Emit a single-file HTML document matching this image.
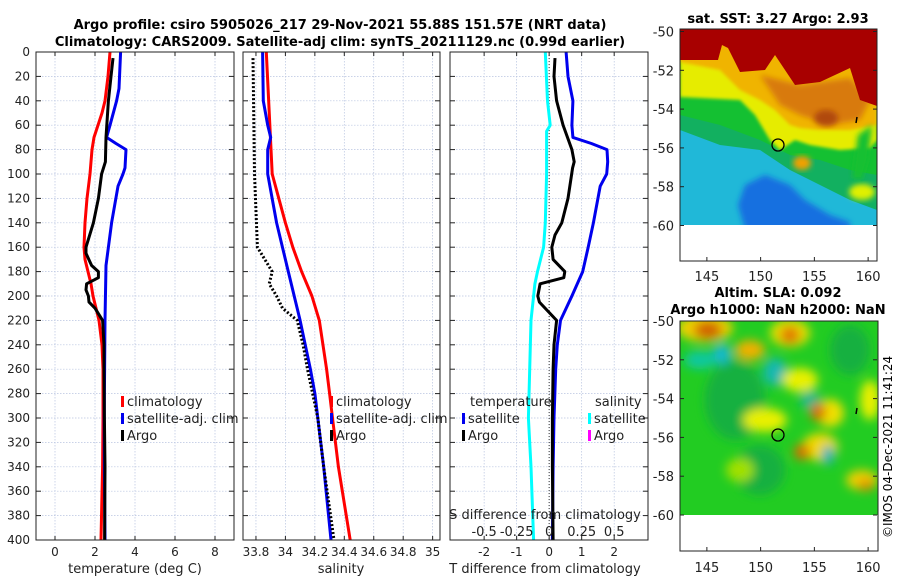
<!DOCTYPE html>
<html><head><meta charset="utf-8">
<style>
html,body{margin:0;padding:0;background:#fff;}
svg{display:block;font-family:"DejaVu Sans","Liberation Sans",sans-serif;}
</style></head>
<body>
<svg id="fig" width="900" height="580" viewBox="0 0 900 580" xmlns="http://www.w3.org/2000/svg">
<defs>
<filter id="blur2" x="-10%" y="-10%" width="120%" height="120%"><feGaussianBlur stdDeviation="1.5"/></filter>
<filter id="blur3" x="-20%" y="-20%" width="140%" height="140%"><feGaussianBlur stdDeviation="3"/></filter>
<filter id="blur5" x="-30%" y="-30%" width="160%" height="160%"><feGaussianBlur stdDeviation="5"/></filter>
<clipPath id="clipM1"><rect x="680" y="29" width="197" height="196"/></clipPath>
<clipPath id="clipM2"><rect x="680" y="321" width="198" height="194"/></clipPath>
</defs>
<text x="340" y="29" text-anchor="middle" font-size="13" font-weight="bold">Argo profile: csiro 5905026_217 29-Nov-2021 55.88S 151.57E (NRT data)</text>
<text x="340" y="46" text-anchor="middle" font-size="13" font-weight="bold">Climatology: CARS2009. Satellite-adj clim: synTS_20211129.nc (0.99d earlier)</text>

<!-- Map 1: SST -->
<g>
<text x="778" y="23" text-anchor="middle" font-size="13" font-weight="bold">sat. SST: 3.27 Argo: 2.93</text>
<g clip-path="url(#clipM1)">
<rect x="680" y="29" width="197" height="196" fill="#20b8d8"/>
<polygon fill="#1870e0" filter="url(#blur3)" points="745,185 765,175 790,185 805,200 830,215 850,222 850,230 745,230 738,205"/>
<polygon fill="#12b060" points="680,25 877,25 877,210 850,200 820,185 790,170 760,150 720,145 680,130"/>
<polygon fill="#14c032" points="680,25 877,25 877,175 850,170 820,160 790,155 760,140 720,125 680,115"/>
<polygon fill="#e6ec00" filter="url(#blur2)" points="680,25 877,25 877,140 870,148 840,150 810,145 795,140 780,150 770,140 755,115 740,100 680,97"/>
<polygon fill="#f0b400" filter="url(#blur2)" points="680,25 877,25 877,125 850,130 820,130 800,128 790,125 775,110 760,100 740,90 720,70 680,62"/>
<polygon fill="#d87a10" filter="url(#blur3)" points="760,75 800,85 850,78 870,100 860,120 830,125 800,115 780,105"/>
<ellipse cx="826" cy="118" rx="12" ry="8" fill="#b04a10" filter="url(#blur3)"/>
<polygon fill="#a80000" points="680,25 877,25 877,106 860,100 850,68 835,75 820,82 795,85 785,70 775,55 765,70 740,72 728,48 722,45 718,60 680,60"/>
<ellipse cx="802" cy="163" rx="9" ry="7" fill="#f0a000" filter="url(#blur3)"/>
<ellipse cx="862" cy="192" rx="13" ry="8" fill="#e0f000" filter="url(#blur3)"/>
<polygon fill="#14c032" points="858,135 872,125 868,160 862,180 852,178" filter="url(#blur3)"/>
</g>
<rect x="680" y="29" width="197" height="232" fill="none" stroke="#222" stroke-width="1"/>
<circle cx="778" cy="145" r="6" fill="none" stroke="#000" stroke-width="1.3"/>
<path d="M857 117 l-1 6" stroke="#000" stroke-width="1.5"/>
</g>

<!-- Map 2: SLA -->
<g>
<text x="778" y="297" text-anchor="middle" font-size="13" font-weight="bold">Altim. SLA: 0.092</text>
<text x="778" y="314" text-anchor="middle" font-size="13" font-weight="bold">Argo h1000: NaN h2000: NaN</text>
<g clip-path="url(#clipM2)">
<rect x="680" y="321" width="198" height="194" fill="#22cc22"/>
<g filter="url(#blur5)">
<ellipse cx="735" cy="400" rx="30" ry="40" fill="#18b040"/>
<ellipse cx="760" cy="470" rx="25" ry="25" fill="#18b040"/>
<ellipse cx="850" cy="350" rx="20" ry="25" fill="#18b040"/>
<ellipse cx="705" cy="328" rx="28" ry="14" fill="#f0d000"/>
<ellipse cx="708" cy="330" rx="14" ry="9" fill="#d06000"/>
<ellipse cx="790" cy="333" rx="20" ry="14" fill="#e8e000"/>
<ellipse cx="790" cy="335" rx="10" ry="9" fill="#e07800"/>
<ellipse cx="750" cy="350" rx="15" ry="10" fill="#f0b000"/>
<ellipse cx="700" cy="360" rx="16" ry="9" fill="#10c8a0"/>
<ellipse cx="722" cy="354" rx="9" ry="10" fill="#18b8d0"/>
<ellipse cx="775" cy="372" rx="12" ry="14" fill="#18b8b0"/>
<ellipse cx="800" cy="380" rx="18" ry="12" fill="#e8f000"/>
<ellipse cx="810" cy="400" rx="10" ry="9" fill="#10b890"/>
<ellipse cx="830" cy="413" rx="14" ry="14" fill="#f0e000"/>
<ellipse cx="818" cy="412" rx="8" ry="9" fill="#d87000"/>
<ellipse cx="765" cy="420" rx="22" ry="12" fill="#e8f000"/>
<ellipse cx="820" cy="447" rx="18" ry="14" fill="#f0d800"/>
<ellipse cx="802" cy="452" rx="8" ry="8" fill="#d87000"/>
<ellipse cx="828" cy="455" rx="6" ry="10" fill="#10b0c0"/>
<ellipse cx="862" cy="480" rx="16" ry="10" fill="#f0d000"/>
<ellipse cx="866" cy="485" rx="8" ry="6" fill="#e09000"/>
<ellipse cx="870" cy="400" rx="10" ry="20" fill="#e8f000"/>
<ellipse cx="740" cy="470" rx="14" ry="12" fill="#a0e000"/>
</g>
</g>
<rect x="680" y="321" width="198" height="230" fill="none" stroke="#222" stroke-width="1"/>
<circle cx="778" cy="435" r="6" fill="none" stroke="#000" stroke-width="1.3"/>
<path d="M857 408 l-1 6" stroke="#000" stroke-width="1.5"/>
<text transform="translate(892,538) rotate(-90)" font-size="12">©IMOS 04-Dec-2021 11:41:24</text>
</g>

<g id="maxes"></g>
<g id="plots"></g>
</svg>
<script>
// ---- data ----
const tDepth = [0,20,40,50,60,70,80,100,120,140,160,170,180,190,200,220,240,260,300,340,400];
const tClim  = [2.75,2.65,2.5,2.35,2.15,1.95,1.85,1.75,1.6,1.5,1.45,1.5,1.65,1.8,1.9,2.2,2.35,2.4,2.4,2.38,2.3];
const sDepthSat = [0,30,40,60,70,75,80,95,100,110,140,160,175,220,260,300,340,400];
const tSat = [3.28,3.2,3.08,2.75,2.58,3.05,3.55,3.5,3.4,3.15,2.83,2.67,2.55,2.5,2.48,2.46,2.47,2.5];
const argoDepth = [5,20,40,70,90,100,120,140,160,165,175,180,185,190,195,200,205,210,220,240,260,300,340,400];
const tArgo = [2.9,2.8,2.67,2.55,2.52,2.33,2.17,1.92,1.55,1.55,1.83,2.17,2.17,1.58,1.55,1.67,1.7,2.0,2.38,2.45,2.45,2.47,2.5,2.48];

const sDepth = [0,100,140,160,180,200,220,260,280,300,340,400];
const sClim  = [33.87,33.91,34.0,34.05,34.11,34.18,34.23,34.28,34.3,34.32,34.36,34.44];
const sSatDepth = [0,40,60,70,80,100,140,180,200,220,260,280,300,340,400];
const sSat = [33.845,33.85,33.88,33.9,33.88,33.88,33.94,34.02,34.06,34.1,34.17,34.2,34.22,34.26,34.31];
const sArgoDepth = [5,100,160,170,180,190,200,210,220,240,260,300,340,400];
const sArgo = [33.78,33.79,33.81,33.86,33.91,33.89,33.94,33.98,34.08,34.12,34.15,34.22,34.26,34.33];

const dDepthSatT = [0,20,40,60,70,75,80,90,100,110,140,160,180,200,220,240,260,300,340,400];
const dTSat = [0.52,0.58,0.73,0.7,0.73,1.3,1.78,1.8,1.77,1.57,1.36,1.2,1.03,0.7,0.35,0.25,0.2,0.15,0.12,0.1];
const dDepthArgoT = [5,20,40,60,80,90,95,120,140,150,160,170,180,185,190,200,205,220,240,260,300,340,400];
const dTArgo = [0.18,0.15,0.23,0.43,0.7,0.77,0.72,0.58,0.39,0.18,0.08,0.12,0.48,0.45,-0.28,-0.35,-0.3,0.23,0.15,0.12,0.1,0.1,0.12];
const dDepthS = [0,40,60,65,100,140,160,180,190,220,260,300,340,400];
const dSSat = [-0.03,-0.013,0.008,-0.02,-0.02,-0.03,-0.043,-0.09,-0.11,-0.14,-0.15,-0.16,-0.14,-0.12];

const depthTicks = [0,20,40,60,80,100,120,140,160,180,200,220,240,260,280,300,320,340,360,380,400];
const tTicks = [0,2,4,6,8];
const sTicks = [33.8,34,34.2,34.4,34.6,34.8,35];
const dTTicks = [-2,-1,0,1,2];
const dSTicks = [-0.5,-0.25,0,0.25,0.5];
const latTicks = [-50,-52,-54,-56,-58,-60];
const lonTicks = [145,150,155,160];

// ---- layout ----
const NS = 'http://www.w3.org/2000/svg';
const top_ = 52, bot = 540;
const yOf = d => top_ + (bot - top_) * d / 400;
const P = [
 {x0:36, x1:234, vmin:-0.95, vmax:8.95},
 {x0:243, x1:440, vmin:33.712, vmax:35.05},
 {x0:450, x1:648, vmin:-3.05, vmax:3.04}
];
const xOf = (p, v) => p.x0 + (p.x1 - p.x0) * (v - p.vmin) / (p.vmax - p.vmin);
const g = document.getElementById('plots');
function el(tag, attrs, parent) {
  const e = document.createElementNS(NS, tag);
  for (const k in attrs) e.setAttribute(k, attrs[k]);
  (parent || g).appendChild(e);
  return e;
}
function txt(x, y, s, anchor, size, parent) {
  const t = el('text', {x:x, y:y, 'text-anchor':anchor || 'middle', 'font-size':size || 12, fill:'#222'}, parent);
  t.textContent = s;
  return t;
}

// map axes
const mg = document.getElementById('maxes');
const lonX = lon => 680 + (lon - 142.5) * 10.75;
[{top:31.5, bottom:261, lblY:281}, {top:321, bottom:551, lblY:572}].forEach((m, i) => {
  const ax = el('g', {}, mg);
  
  
  latTicks.forEach(lat => {
    const y = m.top + (-50 - lat) * 19.4;
    el('line', {x1:680, x2:684, y1:y, y2:y, stroke:'#222'}, ax);
    el('line', {x1:877, x2:873, y1:y, y2:y, stroke:'#222'}, ax);
    txt(674, y + 5, String(lat), 'end', 13, ax);
  });
  lonTicks.forEach(lon => {
    const x = lonX(lon);
    el('line', {x1:x, x2:x, y1:m.bottom, y2:m.bottom - 4, stroke:'#222'}, ax);
    txt(x, m.lblY, String(lon), 'middle', 13, ax);
  });
});

function frame(p, xt, xv, name) {
  const grp = el('g', {});
  
  
  xt.forEach(v => {
    const x = xOf(p, v);
    el('line', {x1:x, x2:x, y1:top_, y2:bot, stroke:'#b8c4e0', 'stroke-width':0.7, 'stroke-dasharray':'1.5,1.5'}, grp);
    el('line', {x1:x, x2:x, y1:bot, y2:bot-4, stroke:'#222'}, grp);
    el('line', {x1:x, x2:x, y1:top_, y2:top_+4, stroke:'#222'}, grp);
  });
  depthTicks.forEach(d => {
    const y = yOf(d);
    el('line', {x1:p.x0, x2:p.x1, y1:y, y2:y, stroke:'#b8c4e0', 'stroke-width':0.7, 'stroke-dasharray':'1.5,1.5'}, grp);
    el('line', {x1:p.x0, x2:p.x0+5, y1:y, y2:y, stroke:'#222'}, grp);
    el('line', {x1:p.x1, x2:p.x1-5, y1:y, y2:y, stroke:'#222'}, grp);
  });
  return grp;
}
function line(p, xs, ds, color, name, dash) {
  const pts = xs.map((v, i) => xOf(p, v).toFixed(1) + ',' + yOf(ds[i]).toFixed(1)).join(' ');
  const a = {points:pts, fill:'none', stroke:color, 'stroke-width':3, 'stroke-linejoin':'round'};
  if (dash) { a['stroke-dasharray'] = dash; a['stroke-width'] = 3; }
  const l = el('polyline', a);
  
  
}
function box(p) {
  const r = el('rect', {x:p.x0, y:top_, width:p.x1-p.x0, height:bot-top_, fill:'none', stroke:'#222', 'stroke-width':1});
  
  
}
function legendItem(x, y, color, label) {
  const it = el('g', {});
  
  
  el('rect', {x:x, y:y-10, width:3, height:11, fill:color}, it);
  txt(x+6, y, label, 'start', 13, it);
}

// Panel 1: temperature
const p1 = P[0];
frame(p1, tTicks, null, 'temperature-axes');
depthTicks.forEach(d => { txt(p1.x0-6, yOf(d)+4, String(d), 'end', 12); });
tTicks.forEach(v => { txt(xOf(p1, v), 556, String(v), 'middle', 12); });
const xl1 = txt(135, 573, 'temperature (deg C)', 'middle', 13);

line(p1, tClim, tDepth, '#ff0000', 'temperature-climatology-line');
line(p1, tSat, sDepthSat, '#0000ee', 'temperature-satellite-line');
line(p1, tArgo, argoDepth, '#000', 'temperature-argo-line');
box(p1);
legendItem(121, 406, '#ff0000', 'climatology');
legendItem(121, 423, '#0000ee', 'satellite-adj. clim');
legendItem(121, 440, '#000', 'Argo');

// Panel 2: salinity
const p2 = P[1];
frame(p2, sTicks, null, 'salinity-axes');
sTicks.forEach(v => { txt(xOf(p2, v), 556, String(v), 'middle', 12); });
const xl2 = txt(341, 573, 'salinity', 'middle', 13);

line(p2, sClim, sDepth, '#ff0000', 'salinity-climatology-line');
line(p2, sSat, sSatDepth, '#0000ee', 'salinity-satellite-line');
line(p2, sArgo, sArgoDepth, '#000', 'salinity-argo-line', '2,2');
box(p2);
legendItem(330, 406, '#ff0000', 'climatology');
legendItem(330, 423, '#0000ee', 'satellite-adj. clim');
legendItem(330, 440, '#000', 'Argo');

// Panel 3: differences
const p3 = P[2];
const p3s = {x0:p3.x0, x1:p3.x1, vmin:p3.vmin/4, vmax:p3.vmax/4};
frame(p3, dTTicks, null, 'difference-axes');
dTTicks.forEach(v => { txt(xOf(p3, v), 556, String(v), 'middle', 12); });
const xl3 = txt(545, 573, 'T difference from climatology', 'middle', 13);

el('line', {x1:xOf(p3,0), x2:xOf(p3,0), y1:top_, y2:bot, stroke:'#333', 'stroke-width':1, 'stroke-dasharray':'1,2'});
line(p3s, dSSat, dDepthS, '#00ffff', 'salinity-difference-satellite-line');
line(p3, dTSat, dDepthSatT, '#0000ee', 'temperature-difference-satellite-line');
line(p3, dTArgo, dDepthArgoT, '#000', 'temperature-difference-argo-line');
const st = txt(545, 519, 'S difference from climatology', 'middle', 13);

dSTicks.forEach(v => { txt(xOf(p3s, v), 536, String(v), 'middle', 13); });
box(p3);
txt(470, 406, 'temperature', 'start', 13);
legendItem(462, 423, '#0000ee', 'satellite');
legendItem(462, 440, '#000', 'Argo');
txt(595, 406, 'salinity', 'start', 13);
legendItem(588, 423, '#00ffff', 'satellite');
legendItem(588, 440, '#ff00ff', 'Argo');
</script>
</body></html>
